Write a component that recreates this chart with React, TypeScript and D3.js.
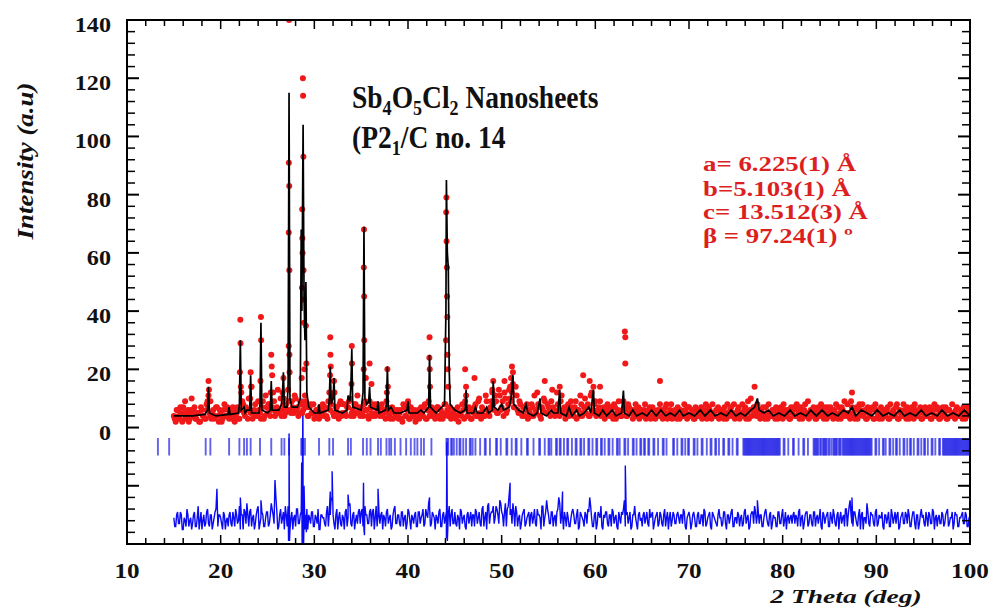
import React from 'react';
import * as d3 from 'd3';

const W = 996;
const H = 614;

const xTickValues = [10, 20, 30, 40, 50, 60, 70, 80, 90, 100];
const yTickValues = [0, 20, 40, 60, 80, 100, 120, 140];

// observed intensities on two interleaved 0.2 deg grids (15.0.. and 15.1..)
const obsStartA = 15.0;
const obsStartB = 15.1;
const obsStep = 0.2;
const obsValuesA = [
  4,2,6,3,5,7,3,5,2,6,
  4,7,3,5,2,6,4,3,9,5,
  3,6,4,7,2,5,3,8,4,6,
  5,3,6,4,7,3,12,8,4,6,
  10,5,3,6,4,9,5,7,3,11,
  5,8,6,12,4,7,5,10,6,4,
  8,13,6,9,5,10,7,5,8,6,
  11,7,4,8,5,3,6,4,7,5,
  4,7,3,12,8,5,4,7,3,9,
  5,8,4,7,10,5,4,8,11,5,
  7,4,9,6,3,7,4,8,5,6,
  4,8,5,3,7,4,6,3,6,4,
  3,6,2,7,4,8,3,5,4,2,
  5,3,7,4,8,3,9,5,4,6,
  4,7,3,5,4,8,6,4,3,5,
  6,4,2,5,8,3,11,4,6,3,
  5,8,4,10,3,6,4,9,5,7,
  12,6,9,5,11,7,4,10,6,13,
  9,15,7,11,5,8,4,7,6,3,
  5,8,4,6,12,7,3,6,9,5,
  7,4,13,6,5,8,4,11,6,3,
  6,4,9,5,7,3,6,11,4,7,
  5,8,4,12,6,9,5,7,4,6,
  3,6,5,7,4,8,3,6,5,4,
  9,6,4,7,5,3,6,4,7,5,
  4,6,3,5,7,4,6,3,5,4,
  6,3,5,8,4,6,3,5,4,7,
  3,5,4,6,3,7,4,5,3,6,
  4,6,3,5,8,4,6,3,5,4,
  6,3,5,4,7,3,5,6,4,8,
  4,6,3,5,4,7,5,3,10,6,
  7,4,6,3,5,4,7,3,5,4,
  6,3,5,4,7,3,6,4,5,3,
  5,7,4,6,3,5,4,8,5,3,
  6,4,5,3,7,4,6,3,5,7,
  4,6,3,5,4,7,3,6,9,4,
  5,3,7,4,6,3,8,5,4,6,
  3,5,4,7,3,6,4,5,3,6,
  4,7,3,5,6,4,8,3,5,4,
  6,3,5,4,7,3,6,4,5,3,
  5,7,4,6,3,5,8,4,6,3,
  5,4,7,3,6,4,5,3,7,4,
  6,3,5,4,7,4,
];
const obsValuesB = [
  3,6,4,7,2,5,4,6,3,5,
  6,3,5,2,7,4,3,6,11,4,
  5,3,7,4,6,2,6,4,7,3,
  4,7,2,5,3,6,9,5,7,3,
  6,14,5,8,4,6,3,9,4,7,
  8,4,7,9,5,13,6,4,8,5,
  6,9,5,7,11,6,4,9,5,8,
  9,4,7,5,8,4,6,3,5,8,
  6,4,9,6,11,4,7,5,8,4,
  8,5,7,9,4,6,8,5,7,4,
  5,8,6,4,9,5,7,4,8,5,
  7,4,6,9,5,3,7,5,4,6,
  5,3,8,4,6,3,7,4,6,3,
  6,4,5,7,3,6,4,7,5,3,
  7,4,6,3,8,5,4,7,5,4,
  3,7,5,4,6,9,4,7,3,6,
  7,4,9,5,7,4,11,6,4,9,
  8,11,5,13,6,9,12,5,8,10,
  12,7,14,6,9,5,7,4,8,6,
  4,7,11,5,8,4,7,10,5,8,
  5,9,7,4,12,6,9,5,7,4,
  8,5,7,4,9,6,4,8,5,10,
  7,4,11,5,8,4,6,9,5,7,
  5,8,4,6,3,7,5,9,4,6,
  7,4,8,5,6,4,8,5,3,6,
  5,8,4,6,3,7,5,4,6,8,
  4,6,7,3,5,8,4,6,3,5,
  6,4,8,5,7,4,6,3,7,4,
  5,7,4,6,3,7,5,8,4,6,
  7,4,6,3,5,8,4,7,5,3,
  5,7,4,8,6,3,9,6,4,7,
  5,8,4,6,7,3,5,8,4,6,
  4,7,3,6,5,8,4,6,3,7,
  6,4,8,5,7,3,6,4,9,5,
  4,7,3,6,5,8,4,7,3,5,
  7,4,6,8,3,5,7,4,5,8,
  4,9,5,3,7,4,6,8,5,3,
  7,4,6,3,8,5,3,7,4,5,
  6,3,8,4,5,7,3,6,4,8,
  4,7,3,6,5,8,4,5,7,3,
  6,4,5,7,3,6,4,7,3,5,
  7,5,3,6,4,8,5,6,4,6,
  4,7,3,5,6,
];

// observed points on the Bragg peaks [2theta, intensity]
const obsPeakPoints: [number, number][] = [
  [16.2,9],[16.9,10],[18.5,8],[18.7,16],[18.75,13],[18.9,9],
  [22.05,19],[22.1,37],[22.12,29],[22.15,14],
  [23.15,10],[23.2,19],[23.25,14],
  [24.25,16],[24.3,38],[24.32,30],
  [25.35,12],[25.4,25],[25.45,21],[25.5,18],
  [26.6,12],[26.7,17],[26.75,10],
  [27.26,28],[27.27,67],[27.28,91],[27.3,140],[27.32,83],[27.33,54],[27.34,25],[27.36,19],
  [28.65,17],[28.68,48],[28.7,75],[28.72,65],[28.74,60],[28.78,120],[28.8,114],[28.83,93],
  [28.85,54],[28.87,44],[28.9,36],[28.95,20],[29.1,35],[29.15,22],
  [31.68,18],[31.7,31],[31.72,25],[31.75,21],
  [32.1,16],[32.15,12],
  [33.97,15],[34.0,28],[34.02,22],
  [35.27,20],[35.28,55],[35.3,68],[35.32,45],[35.33,30],[35.5,17],[35.9,22],[36.1,15],
  [37.75,12],[37.8,20],[37.85,14],
  [40.0,9],
  [42.28,24],[42.3,31],[42.32,20],[42.35,14],
  [44.06,30],[44.08,74],[44.1,79],[44.12,64],[44.15,55],[44.17,45],[44.2,38],[44.22,25],[44.25,20],[44.3,14],
  [46.1,20],[46.2,14],[47.1,17],[49.0,13],[49.1,16],[50.3,16],[50.9,14],[51.0,17],[51.1,21],[51.2,19],
  [54.6,16],[56.2,14],[58.7,18],[59.4,16],[59.8,14],[60.5,14],
  [63.15,33],[63.2,31],[63.2,22],[66.9,16],[77.0,14],[87.4,12],
];

// calculated profile [2theta, intensity]
const calcPoints: [number, number][] = [
  [15.0,4],[16.0,4],[17.0,4],[18.3,4.5],[18.6,6],[18.7,14],[18.8,5],[19.5,4],[20.8,4.5],[20.9,7],[21.0,4.5],
  [21.9,5],[22.0,8],[22.1,30],[22.2,6],[22.5,7],[22.6,5],[22.8,6],[23.1,6],[23.2,18],[23.3,5],
  [24.1,5],[24.2,8],[24.3,36],[24.4,6],[25.0,5],[25.3,6],[25.4,16],[25.5,6],[26.2,6],[26.5,8],
  [26.6,12],[26.7,19],[26.8,7],[27.1,7],[27.2,15],[27.3,115],[27.4,10],[27.6,7],[28.2,7],[28.5,10],
  [28.6,68],[28.67,40],[28.8,104],[28.9,45],[29.0,30],[29.1,50],[29.2,12],[29.4,7],[30.0,5],[30.4,5],
  [30.5,8],[30.6,5],[31.5,6],[31.6,10],[31.7,21],[31.8,8],[32.0,10],[32.1,17],[32.2,6],[33.0,5],
  [33.5,6],[33.6,11],[33.8,9],[33.9,14],[34.0,27],[34.1,7],[35.0,6],[35.2,12],[35.3,69],[35.4,10],
  [35.6,8],[35.8,9],[35.9,14],[36.0,7],[36.7,6],[36.8,9],[36.9,5],[37.6,6],[37.7,8],[37.8,21],
  [37.9,6],[38.2,7],[38.5,5],[39.2,5],[39.9,6],[40.0,9],[40.1,5],[41.0,5],[41.4,6],[41.7,5],
  [42.2,7],[42.3,25],[42.4,7],[43.0,5],[43.9,8],[44.05,40],[44.1,85],[44.2,60],[44.3,55],[44.4,20],
  [44.5,8],[45.0,6],[45.6,5],[46.1,6],[46.2,13],[46.3,5],[47.0,5],[47.2,7],[47.4,5],[48.0,5],
  [48.4,7],[48.6,5],[49.0,6],[49.1,16],[49.2,7],[49.6,6],[50.0,8],[50.2,6],[50.8,7],[51.0,10],
  [51.2,18],[51.3,8],[51.8,6],[52.3,5],[52.6,8],[52.8,5],[53.4,4],[53.8,5],[54.1,10],[54.2,5],
  [54.8,4],[55.3,6],[55.5,5],[56.0,5],[56.2,13],[56.3,5],[56.9,4],[57.2,7],[57.5,4],[58.0,6],
  [58.3,4],[58.8,5],[59.3,7],[59.5,5],[59.8,13],[59.9,5],[60.4,4],[60.8,6],[61.2,4],[61.8,6],
  [62.2,4],[62.8,5],[63.0,12.7],[63.1,5],[63.6,4],[64.0,6],[64.4,4],[65.0,5],[65.5,4],[66.0,6],
  [66.5,4],[67.0,6],[67.5,4],[68.0,5],[68.5,4],[69.0,6],[69.4,4],[70.0,5],[70.6,4],[71.2,6],
  [71.7,4],[72.3,6],[72.8,4],[73.4,5],[74.0,4],[74.5,6],[75.0,4],[75.5,5],[76.0,4],[76.6,6],
  [77.0,7],[77.3,10],[77.5,6],[78.0,5],[78.5,6],[79.0,4],[79.6,5],[80.2,4],[80.8,6],[81.3,4],
  [81.9,5],[82.5,4],[83.0,6],[83.6,4],[84.2,6],[84.8,4],[85.3,5],[85.9,4],[86.5,6],[87.0,5],
  [87.4,7],[87.8,4],[88.4,6],[89.0,5],[89.5,4],[90.1,6],[90.7,4],[91.3,5],[91.9,4],[92.5,6],
  [93.0,4],[93.6,5],[94.2,4],[94.8,6],[95.3,4],[95.9,5],[96.5,4],[97.0,6],[97.6,4],[98.2,5],
  [98.8,4],[99.4,6],[100,4],
];

// difference (obs - calc) on the same two grids, drawn with an offset
const diffOffset = -32;
const diffValuesA = [
  1,-2,3,-1,2,-3,0,4,-2,1,
  -1,3,-2,5,0,-3,2,-1,4,-2,
  2,-1,3,11,2,1,-3,2,0,-2,
  3,-2,1,4,-1,5,2,-3,3,6,
  -2,4,1,-3,2,5,-1,3,-2,1,
  3,-1,6,2,14,3,-2,4,1,-3,
  2,5,-3,3,1,-2,4,-1,3,2,
  -3,4,2,-1,3,-2,1,4,-3,2,
  1,-2,5,3,8,2,-3,4,1,-1,
  2,-3,4,1,6,-2,3,0,-1,4,
  3,-2,5,2,-1,4,3,-3,5,2,
  -1,3,2,-2,4,1,-3,2,5,-1,
  2,-2,3,1,-3,4,0,2,-1,3,
  -2,3,1,4,-1,2,6,-2,3,1,
  2,-1,4,-2,3,1,-3,5,2,-1,
  3,-2,1,4,-1,2,-3,3,1,-2,
  2,4,-1,3,-2,5,1,-3,6,2,
  3,-1,5,2,7,3,-2,6,4,9,
  4,6,-2,3,1,-3,2,4,-1,2,
  -2,3,1,-1,4,2,-3,5,1,7,
  2,-1,3,1,-2,4,6,2,-3,1,
  3,-2,1,4,-1,2,-3,3,1,-2,
  2,4,8,1,-2,3,-1,2,5,-3,
  1,3,-2,2,4,-1,2,-3,1,3,
  4,-2,3,1,-3,2,5,-1,2,0,
  -2,3,1,-1,4,2,-3,1,3,-1,
  2,-2,4,1,-3,3,0,2,-1,3,
  -1,2,4,-2,1,3,-3,2,1,-2,
  3,-1,2,4,-2,1,3,-3,2,0,
  -2,4,1,-1,3,-3,2,1,4,-2,
  1,3,-2,2,-1,4,1,-3,2,3,
  5,-1,3,2,-2,1,4,-1,2,-3,
  2,1,-2,3,-1,4,0,-3,2,1,
  -1,3,2,-2,4,1,-3,2,3,-1,
  2,-2,3,1,-1,4,-3,2,1,3,
  -2,1,4,-1,2,-3,3,1,-2,4,
  2,7,-1,3,1,-2,4,2,-3,1,
  6,-1,3,2,-2,4,-1,1,3,-3,
  2,1,-2,4,-1,3,2,-3,1,3,
  -1,2,4,-2,1,3,-3,2,-1,4,
  2,-2,1,3,-1,4,-3,2,1,-1,
  3,-2,2,4,-1,1,-3,3,2,-2,
  1,3,-1,2,-2,1,
];
const diffValuesB = [
  -2,2,-1,3,-3,1,-2,2,0,-3,
  2,-2,1,-3,3,0,-2,3,-1,2,
  -3,1,4,-2,2,-1,3,-3,1,2,
  -1,3,-2,2,0,-3,2,4,-1,2,
  3,-2,2,-1,4,-3,1,2,-2,3,
  -2,2,4,-1,8,-3,2,-1,3,5,
  -2,3,1,-3,2,4,-1,2,-2,1,
  2,-3,1,3,-2,2,-1,-3,2,1,
  -1,3,-2,2,7,-1,2,-3,3,-2,
  1,3,-2,5,-1,2,-3,2,3,-1,
  4,-3,2,-1,3,-2,4,1,-2,3,
  2,-3,1,3,-1,2,-2,4,-1,2,
  -1,3,-2,2,-1,3,-3,1,2,-2,
  3,-1,2,-2,4,1,5,-1,2,-3,
  1,3,-2,2,-1,3,2,-2,4,-1,
  -1,2,-3,3,1,-2,2,-1,3,2,
  -2,3,1,-1,4,-2,3,5,-1,3,
  5,1,4,-1,6,2,3,-2,5,2,
  -1,3,5,-2,2,-1,3,-2,1,3,
  2,-1,4,-2,2,1,5,-2,3,4,
  -1,3,-2,2,3,8,-1,2,3,-2,
  1,-2,3,2,-1,4,-2,2,0,3,
  -1,3,5,-2,2,-3,3,1,-2,2,
  3,-1,2,-2,3,1,-2,3,-1,2,
  7,2,-1,3,-2,2,1,-3,3,1,
  2,-1,3,-2,1,3,-1,2,-2,3,
  -1,2,-2,3,1,-2,3,-1,2,1,
  2,-1,3,-3,2,1,-1,3,-2,2,
  -1,2,-2,3,-1,2,-2,3,1,-1,
  2,1,-2,3,-1,2,-1,3,-2,1,
  -1,2,1,-2,3,-1,2,-2,3,-1,
  3,2,-1,2,-2,3,1,-2,3,-1,
  1,-2,3,-1,2,-2,3,1,-1,2,
  2,-1,1,3,-2,2,-1,3,-2,2,
  -1,3,-2,2,1,-2,3,-1,2,-2,
  3,-1,2,-2,3,1,-1,2,4,-2,
  5,2,-2,3,-1,2,-3,3,1,-1,
  3,-2,2,-1,3,-2,2,1,-2,2,
  -1,3,-2,2,1,-1,3,-2,2,-1,
  3,-1,2,-2,3,-1,2,-3,2,1,
  -1,3,-2,2,-1,3,1,-2,2,-1,
  2,-1,3,-2,1,3,-1,2,-2,1,
  2,-1,3,-2,1,
];

// sharp difference features at the peaks [2theta, obs - calc]
const diffSpikes: [number, number][] = [
  [22.1,8],[24.3,7],[27.25,-7],[27.3,30],[27.35,-7],[28.65,20],[28.7,-10],[28.78,42],[28.85,-9],
  [28.9,12],[29.15,-4],[31.7,10],[31.9,17],[33.6,9],[35.25,13],[35.35,-5],[36.8,11],[42.3,8],
  [44.1,-6],[44.15,27],[44.2,-7],[50.9,13],[56.5,10],[63.2,19],[77.3,7],[87.4,8],
];

// Bragg reflection positions (2theta)
const braggPositions = [
  13.3,14.5,18.4,18.9,20.9,22.0,22.5,22.8,23.2,24.2,25.4,26.5,26.8,27.3,28.6,28.7,28.8,29.0,
  30.5,31.6,32.0,33.6,33.9,35.2,35.6,36.0,36.8,37.1,37.7,38.0,38.2,38.6,39.2,39.8,40.3,40.7,
  41.0,41.4,41.7,42.5,44.1,44.2,44.3,44.6,44.7,44.9,45.2,45.5,45.6,45.9,46.2,46.6,46.7,46.9,47.2,
  47.7,48.2,48.3,48.75,49.4,49.5,49.9,50.5,50.6,51.07,51.5,51.6,52.1,52.7,52.8,53.4,54.0,54.1,
  54.6,55.0,55.1,55.3,55.8,55.9,56.2,56.3,56.65,57.0,57.1,57.5,57.9,58.0,58.4,58.5,58.8,59.25,
  59.35,59.7,60.1,60.2,60.6,60.7,61.0,61.4,61.5,61.85,62.3,62.4,62.6,63.1,63.2,63.5,64.0,64.1,
  64.4,64.8,64.9,65.2,65.3,65.65,65.75,66.2,66.3,66.7,67.2,67.3,67.6,68.3,68.4,68.75,69.2,69.3,
  69.6,69.9,70.0,70.5,70.6,70.9,71.35,71.45,71.9,72.3,72.4,72.8,72.9,73.2,73.65,73.75,74.2,
  74.3,74.65,75.1,75.2,
  75.8,75.9,76.0,76.1,76.2,76.3,76.4,76.5,76.6,76.7,76.8,76.9,77.0,77.1,77.2,77.3,77.4,77.5,
  77.6,77.7,77.8,77.9,78.0,78.1,78.2,78.3,78.4,78.5,78.6,78.7,78.8,78.9,79.0,79.1,79.2,79.3,
  79.4,79.5,79.6,79.7,
  80.1,80.2,80.6,81.1,81.2,81.7,82.2,82.3,82.7,
  83.3,83.4,83.5,83.6,83.7,83.8,84.0,84.1,84.3,84.4,84.5,84.6,84.7,84.9,85.0,85.2,85.4,85.5,
  85.6,85.7,85.8,86.0,86.1,86.2,
  86.4,86.5,86.6,86.7,86.8,86.9,87.0,87.1,87.2,87.3,87.4,87.5,87.6,87.7,87.8,87.9,88.0,88.1,
  88.2,88.3,88.4,88.5,88.6,88.7,88.8,88.9,89.0,89.1,89.2,89.3,89.4,89.5,
  89.9,90.0,90.3,90.7,90.8,91.0,91.4,91.5,91.8,92.1,92.2,92.5,92.9,93.0,93.3,93.6,93.7,94.0,
  94.4,94.5,94.8,95.1,95.2,95.5,95.9,96.0,96.3,96.7,96.8,
  97.1,97.2,97.3,97.4,97.5,97.6,97.7,97.8,97.9,98.0,98.1,98.2,98.3,98.4,98.5,98.6,98.7,98.8,
  98.9,99.0,99.1,99.2,99.3,99.4,99.5,99.6,99.7,99.8,99.9,
];
const braggTop = -3.6;
const braggBottom = -9.6;

const SERIF = '"Liberation Serif", "Times New Roman", serif';

export default function App() {
  const left = 127, right = 970, top = 20, bottom = 544;
  const x = d3.scaleLinear().domain([10, 100]).range([left, right]);
  const y = d3.scaleLinear().domain([-40, 140]).range([bottom, top]);

  const gridA = (vals: number[]) => vals.map((v, i) => [obsStartA + i * obsStep, v] as [number, number]);
  const gridB = (vals: number[]) => vals.map((v, i) => [obsStartB + i * obsStep, v] as [number, number]);

  const obsAll = gridA(obsValuesA).concat(gridB(obsValuesB), obsPeakPoints);
  const diffAll = gridA(diffValuesA).concat(gridB(diffValuesB), diffSpikes).sort((a, b) => a[0] - b[0]);

  const line = d3.line<[number, number]>().x(d => x(d[0])).y(d => y(d[1]));
  const diffLine = d3.line<[number, number]>().x(d => x(d[0])).y(d => y(d[1] + diffOffset));

  const xMinor = d3.range(10, 100.001, 2);
  const yMinor = d3.range(-40, 140.001, 4);

  return (
    <svg width={W} height={H} style={{ position: 'absolute', left: 0, top: 0, background: '#fff' }}
      fontFamily={SERIF}>
      <defs>
        <clipPath id="plotClip">
          <rect x={left} y={top} width={right - left} height={bottom - top} />
        </clipPath>
      </defs>
      <rect x={0} y={0} width={W} height={H} fill="#fff" />

      <g clipPath="url(#plotClip)">
        {braggPositions.map((p, i) => (
          <line key={'b' + i} x1={x(p)} x2={x(p)} y1={y(braggTop)} y2={y(braggBottom)}
            stroke="#2424e8" strokeWidth={1.9} strokeOpacity={0.72} />
        ))}
        <path d={diffLine(diffAll) || ''} fill="none" stroke="#0a0af5" strokeWidth={1.4} />
        {obsAll.map((d, i) => (
          <circle key={'o' + i} cx={x(d[0])} cy={y(d[1])} r={3} fill="#f01818" />
        ))}
        <path d={line(calcPoints) || ''} fill="none" stroke="#000" strokeWidth={1.7} />
      </g>

      {/* frame */}
      <rect x={left} y={top} width={right - left} height={bottom - top} fill="none" stroke="#000" strokeWidth={2} />

      {/* x ticks bottom and top */}
      {xMinor.map((v, i) => {
        const major = v % 10 === 0;
        const len = major ? 9 : 6;
        return (
          <g key={'xt' + i}>
            <line x1={x(v)} x2={x(v)} y1={bottom} y2={bottom - len} stroke="#000" strokeWidth={1.5} />
            <line x1={x(v)} x2={x(v)} y1={top} y2={top + len} stroke="#000" strokeWidth={1.5} />
          </g>
        );
      })}
      {/* y ticks left and right */}
      {yMinor.map((v, i) => {
        const major = v % 20 === 0;
        const len = major ? 12 : 8;
        return (
          <g key={'yt' + i}>
            <line x1={left} x2={left + len} y1={y(v)} y2={y(v)} stroke="#000" strokeWidth={major ? 2 : 1.5} />
            <line x1={right} x2={right - len} y1={y(v)} y2={y(v)} stroke="#000" strokeWidth={major ? 2 : 1.5} />
          </g>
        );
      })}

      {xTickValues.map(v => (
        <text key={'xl' + v} transform={`translate(${x(v)},578) scale(1.2,1)`} textAnchor="middle"
          fontSize={21} fontWeight="bold" fill="#111">{v}</text>
      ))}
      {yTickValues.map(v => (
        <text key={'yl' + v} transform={`translate(111,${y(v) + 12}) scale(1.15,1)`} textAnchor="end"
          fontSize={21} fontWeight="bold" fill="#111">{v}</text>
      ))}

      <text transform="translate(33,161) rotate(-90) scale(1.12,1)" textAnchor="middle" fontSize={24}
        fontWeight="bold" fontStyle="italic" fill="#111">Intensity (a.u)</text>
      <text transform="translate(846,603) scale(1.45,1)" textAnchor="middle" fontSize={19}
        fontWeight="bold" fontStyle="italic" fill="#111">2 Theta (deg)</text>

      <g transform="translate(352,108) scale(0.86,1)">
        <text fontSize={32} fontWeight="bold" fill="#111">
          Sb<tspan fontSize={21} dy={7}>4</tspan><tspan dy={-7}>O</tspan><tspan fontSize={21} dy={7}>5</tspan><tspan dy={-7}>Cl</tspan><tspan fontSize={21} dy={7}>2</tspan><tspan dy={-7}> Nanosheets</tspan>
        </text>
      </g>
      <g transform="translate(352,148) scale(0.86,1)">
        <text fontSize={32} fontWeight="bold" fill="#111">
          (P2<tspan fontSize={21} dy={7}>1</tspan><tspan dy={-7}>/C no. 14</tspan>
        </text>
      </g>

      <g fill="#dc1f1f" fontWeight="bold" fontSize={22}>
        <text transform="translate(703,171) scale(1.22,1)">a= 6.225(1) Å</text>
        <text transform="translate(703,196) scale(1.22,1)">b=5.103(1) Å</text>
        <text transform="translate(703,219) scale(1.22,1)">c= 13.512(3) Å</text>
        <text transform="translate(703,243) scale(1.22,1)">β = 97.24(1) º</text>
      </g>
    </svg>
  );
}
